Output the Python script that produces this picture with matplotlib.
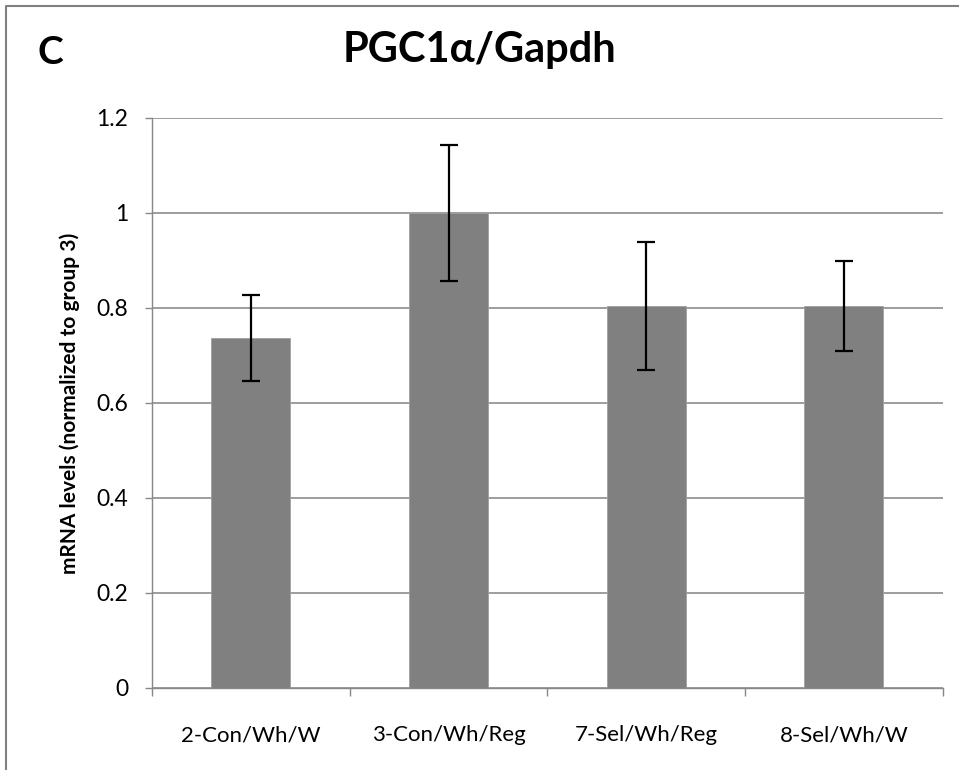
import matplotlib

matplotlib.use("Agg")
import matplotlib.pyplot as plt
from matplotlib.lines import Line2D
import numpy as np

# data
groups = ["2-Con/Wh/W", "3-Con/Wh/Reg", "7-Sel/Wh/Reg", "8-Sel/Wh/W"]
mrna_levels = [0.737, 1.0, 0.804, 0.804]
errors = [0.091, 0.143, 0.134, 0.095]
y_ticks = [0, 0.2, 0.4, 0.6, 0.8, 1, 1.2]
y_tick_labels = ["0", "0.2", "0.4", "0.6", "0.8", "1", "1.2"]

plt.rcParams["font.family"] = ["Lato", "DejaVu Sans"]

fig = plt.figure(figsize=(9.59, 7.70), dpi=100)
ax = fig.add_axes([0.1585, 0.1065, 0.8245, 0.7403])

x = np.arange(len(groups))
ax.bar(x, mrna_levels, width=0.4, color="#808080", edgecolor="#a0a0a0",
       linewidth=0.6, zorder=2)
ax.errorbar(x, mrna_levels, yerr=errors, fmt="none", ecolor="black",
            elinewidth=1.6, capsize=6.5, capthick=1.6, zorder=3)

ax.set_xlim(-0.5, len(groups) - 0.5)
ax.set_ylim(0, 1.2)
ax.set_yticks(y_ticks)
ax.set_yticklabels(y_tick_labels, fontsize=16.5)
ax.set_xticks(x)
ax.set_xticklabels(groups, fontsize=16)
ax.set_xticks(np.arange(-0.5, len(groups)), minor=True)
ax.tick_params(axis="x", which="major", length=0, pad=27)
ax.tick_params(axis="x", which="minor", length=6, color="#888888", width=1)
ax.tick_params(axis="y", length=5, color="#888888", width=1, pad=12)

ax.grid(axis="y", color="#8c8c8c", linewidth=1.2, zorder=0)
ax.set_axisbelow(True)
for side in ["top", "right"]:
    ax.spines[side].set_visible(False)
ax.spines["left"].set_color("#888888")
ax.spines["bottom"].set_color("#888888")
ax.spines["left"].set_linewidth(1)
ax.spines["bottom"].set_linewidth(1)

ax.set_ylabel("mRNA levels (normalized to group 3)", fontsize=15,
              fontweight="bold", labelpad=12)

fig.text(0.5, 0.935, "PGC1\u03b1/Gapdh", fontsize=30, fontweight="bold",
         ha="center", va="center")
fig.text(0.039, 0.932, "C", fontsize=28, fontweight="bold", ha="left",
         va="center")

# frame around the panel (cut off at right and bottom)
fig.add_artist(Line2D([6 / 959, 6 / 959, 1], [0, 1 - 6 / 770, 1 - 6 / 770],
                      color="#808080", linewidth=1.5, transform=fig.transFigure))

fig.savefig("out.png", dpi=100)
plt.close(fig)
